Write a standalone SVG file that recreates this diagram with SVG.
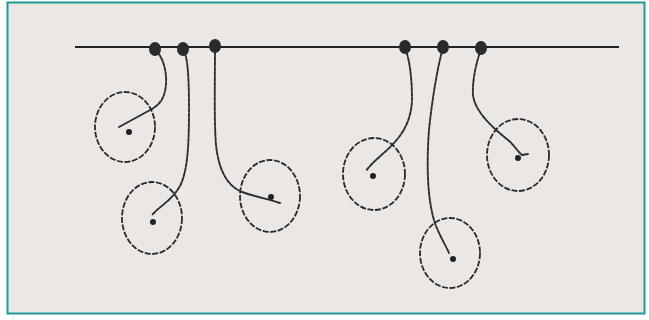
<svg xmlns="http://www.w3.org/2000/svg" width="649" height="320" viewBox="0 0 649 320">
<style>
.orbit{fill:none;stroke:#2a2a2a;stroke-width:1.8;stroke-dasharray:6 1.6}
.hub{fill:#222}
.anchor{fill:#2a2a2a}
.tether{fill:none;stroke:#2e2e2e;stroke-width:1.9;stroke-dasharray:3.5 1.5;stroke-linecap:round}
.solid{fill:none;stroke:#2e2e2e;stroke-width:1.9;stroke-linecap:round}
</style>
<rect x="0" y="0" width="649" height="320" fill="#ffffff"/>
<rect x="7.5" y="2.5" width="637" height="311" fill="#eae7e5" stroke="#1f9a96" stroke-width="2"/>
<line x1="75" y1="47" x2="619" y2="47" stroke="#222" stroke-width="2"/>
<g id="connectors">
<path class="tether" d="M155 50 C163 56 167 72 166 84 C165 98 160 104 152 109"/>
<path class="solid" d="M152 109 L119 127"/>
<path class="tether" d="M183 49 C188 56 189 80 189 110 C189 150 187 172 180 186 C172 200 160 206 152 215"/>
<path class="tether" d="M215 47 C215 80 214 120 216 145 C219 172 228 186 242 192"/>
<path class="solid" d="M242 192 C256 197 268 199 280 203"/>
<path class="tether" d="M405 48 C410 60 412 80 412 100 C411 124 400 138 386 151 C378 158 371 164 366 171"/>
<path class="tether" d="M443 48 C438 64 432 100 429 130 C426 170 428 205 436 226 C441 238 446 246 449 253"/>
<path class="tether" d="M481 49 C477 60 472 80 473 95 C475 112 493 128 508 140 C515 146 518 152 522 155"/>
<path class="solid" d="M522 155 L528 154"/>
</g>
<g id="anchor-1"><ellipse class="anchor" cx="155" cy="49" rx="6" ry="7"/></g>
<g id="anchor-2"><ellipse class="anchor" cx="183" cy="49" rx="6" ry="7"/></g>
<g id="anchor-3"><ellipse class="anchor" cx="215" cy="46" rx="6" ry="7"/></g>
<g id="anchor-4"><ellipse class="anchor" cx="405" cy="47" rx="6" ry="7"/></g>
<g id="anchor-5"><ellipse class="anchor" cx="443" cy="47" rx="6" ry="7"/></g>
<g id="anchor-6"><ellipse class="anchor" cx="481" cy="48" rx="6" ry="7"/></g>
<g id="orbit-1"><ellipse class="orbit" cx="125" cy="127" rx="30" ry="35"/><circle class="hub" cx="129" cy="132" r="3"/></g>
<g id="orbit-2"><ellipse class="orbit" cx="152" cy="218" rx="30" ry="36"/><circle class="hub" cx="153" cy="222" r="3"/></g>
<g id="orbit-3"><ellipse class="orbit" cx="270" cy="196" rx="30" ry="36"/><circle class="hub" cx="271" cy="197" r="3"/></g>
<g id="orbit-4"><ellipse class="orbit" cx="374" cy="174" rx="31" ry="36"/><circle class="hub" cx="373" cy="176" r="3"/></g>
<g id="orbit-5"><ellipse class="orbit" cx="450" cy="253" rx="30" ry="35"/><circle class="hub" cx="453" cy="259" r="3"/></g>
<g id="orbit-6"><ellipse class="orbit" cx="518" cy="155" rx="31" ry="36"/><circle class="hub" cx="518" cy="158" r="3"/></g>
</svg>
